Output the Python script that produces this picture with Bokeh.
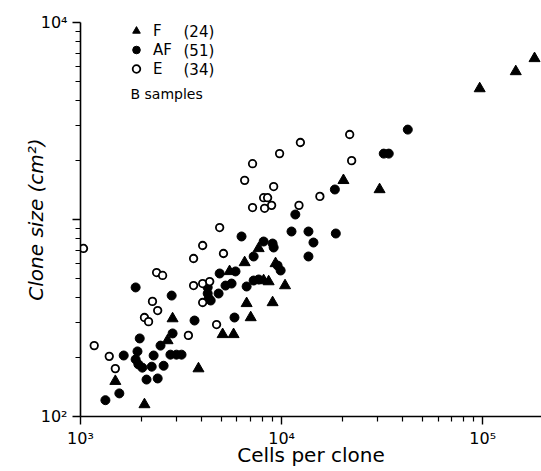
from bokeh.plotting import figure
from bokeh.models import Range1d, FixedTicker, Legend, LegendItem, Label
from bokeh.embed import file_html
from bokeh.resources import INLINE

# ---- data ----
group_names = ["F", "AF", "E"]
group_counts = [24, 51, 34]
note_text = "B samples"

f_cells = [1490, 2080, 2870, 2710, 3860, 5090, 5770, 5510, 6550, 7690, 9330,
           6700, 9020, 10400, 7020, 8140, 8620, 20300, 30700, 96600, 146000, 181000]
f_size = [151, 115, 314, 243, 175, 261, 261, 545, 605, 713, 598,
          375, 379, 462, 318, 490, 484, 1580, 1420, 4620, 5640, 6570]

af_cells = [1880, 2840, 3690, 1970, 1920, 1640, 1880, 1940, 2030, 2310,
            2500, 2870, 2260, 2590, 2130, 2420, 1330, 1560, 2800, 3000,
            3180, 6320, 11200, 13600, 14400, 13600, 8140, 9020, 9130, 7260,
            4920, 5900, 9550, 9890, 5260, 5640, 4860, 4290, 4290, 4340,
            4440, 6700, 7260, 7690, 5830, 11700, 18600, 42400, 32200, 34100,
            18400]
af_size = [452, 411, 307, 249, 214, 204, 195, 184, 177, 204,
           229, 264, 179, 181, 154, 156, 121, 131, 206, 206,
           206, 820, 869, 869, 764, 649, 773, 755, 721, 649,
           532, 545, 584, 551, 462, 473, 421, 452, 421, 397,
           388, 457, 490, 496, 318, 1060, 849, 2860, 2160, 2160,
           1420]

e_cells = [1035, 1170, 1390, 1490, 2390, 2560, 2280, 2420, 2080, 2180,
           3650, 4050, 4050, 3440, 3650, 4050, 4390, 4920, 5140, 4750,
           6550, 7170, 9770, 12400, 9130, 8140, 8520, 7170, 8230, 8920,
           12200, 15500, 21800, 22300]
e_size = [713, 229, 202, 175, 538, 520, 384, 345, 318, 303,
          462, 473, 379, 258, 634, 738, 484, 910, 672, 293,
          1580, 1920, 2160, 2460, 1470, 1290, 1290, 1150, 1140, 1180,
          1180, 1310, 2700, 1990]

x_major = [1000, 10000, 100000]
x_labels = ["10³", "10⁴", "10⁵"]
y_major = [100, 1000, 10000]
y_labels = ["10²", "", "10⁴"]

FONT = "DejaVu Sans"

p = figure(width=541, height=471, x_axis_type="log", y_axis_type="log",
           x_range=Range1d(1000, 196000), y_range=Range1d(100, 10000),
           output_backend="svg", toolbar_location=None,
           min_border_left=80, min_border_right=0, min_border_top=22,
           min_border_bottom=55)
p.outline_line_color = None
p.xgrid.visible = False
p.ygrid.visible = False
p.background_fill_color = "white"

r_f = p.scatter(f_cells, f_size, marker="triangle", size=11,
                fill_color="black", line_color="black")
r_af = p.scatter(af_cells, af_size, marker="circle", size=9,
                 fill_color="black", line_color="black")
r_e = p.scatter(e_cells, e_size, marker="circle", size=7.5,
                fill_color="white", line_color="black", line_width=1.8)

x_minor = [m * d for d in (1000, 10000, 100000) for m in range(2, 10)]
y_minor = [m * d for d in (100, 1000) for m in range(2, 10)]
p.xaxis.ticker = FixedTicker(ticks=x_major, minor_ticks=x_minor)
p.yaxis.ticker = FixedTicker(ticks=y_major, minor_ticks=y_minor)
p.xaxis.major_label_overrides = dict(zip(x_major, x_labels))
p.yaxis.major_label_overrides = dict(zip(y_major, y_labels))

for ax in (p.xaxis[0], p.yaxis[0]):
    ax.axis_line_width = 1.6
    ax.major_tick_line_width = 1.4
    ax.minor_tick_line_width = 1.2
    ax.major_tick_out = 8
    ax.major_tick_in = 0
    ax.minor_tick_out = 5
    ax.minor_tick_in = 0
    ax.major_label_text_font = FONT
    ax.major_label_text_font_size = "16px"
    ax.major_label_text_color = "black"
    ax.axis_label_text_font = FONT
    ax.axis_label_text_font_size = "20px"
    ax.axis_label_text_color = "black"

p.xaxis.axis_label = "Cells per clone"
p.xaxis.axis_label_text_font_style = "normal"
p.xaxis.major_label_standoff = 4
p.xaxis.axis_label_standoff = -8
p.yaxis.axis_label = "Clone size (cm²)"
p.yaxis.axis_label_text_font_style = "italic"
p.yaxis.axis_label_standoff = -10

legend = Legend(items=[LegendItem(label=n, renderers=[r])
                       for n, r in zip(group_names, [r_f, r_af, r_e])],
                location=(45, 338), orientation="vertical",
                glyph_width=22, glyph_height=19, label_height=19,
                spacing=0, padding=0, margin=0, label_standoff=6,
                border_line_color=None, background_fill_alpha=0,
                label_text_font=FONT, label_text_font_size="15px",
                label_text_color="black")
p.add_layout(legend)

for i, c in enumerate(group_counts):
    p.add_layout(Label(x=103, y=385 - 19 * i, x_units="screen", y_units="screen",
                       text=f"({c})", text_baseline="middle", text_color="black",
                       text_font=FONT, text_font_size="15px"))
p.add_layout(Label(x=50, y=323, x_units="screen", y_units="screen",
                   text=note_text, text_baseline="middle", text_color="black",
                   text_font=FONT, text_font_size="14px"))

open("out.html", "w").write(file_html(p, INLINE))
